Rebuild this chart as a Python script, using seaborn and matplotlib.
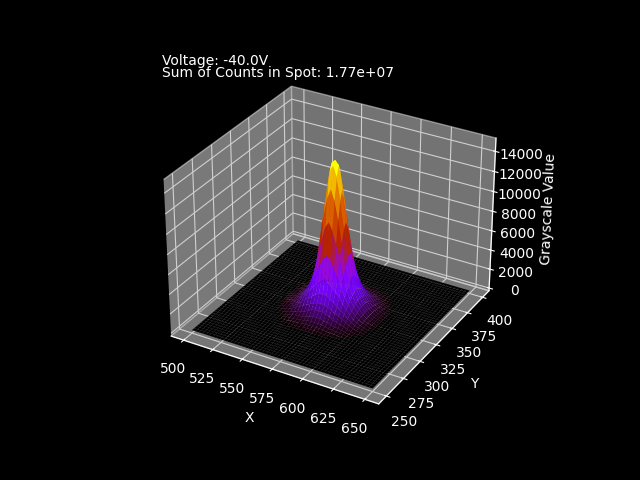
import numpy as np
import matplotlib
matplotlib.use("Agg")
import matplotlib.pyplot as plt
import seaborn as sns

voltage_label = "Voltage: -40.0V"
counts_label = "Sum of Counts in Spot: 1.77e+07"
x_pixels = np.arange(500, 651, 3)
y_pixels = np.arange(250, 401, 3)
background_counts = 30
spot_x_start = 11
spot_y_start = 12

# Grayscale values around the spot, in hundreds of counts
spot_hundreds = [
 [0,0,0,0,0,0,0,0,0,0,0,0,0,0,0,0,0,0,0,0,0,0,0,0,0,0,0,0,0],
 [0,0,0,0,0,0,0,0,0,1,1,1,1,1,1,1,1,1,1,1,0,0,0,0,0,0,0,0,0],
 [0,0,0,0,0,0,1,1,1,1,1,1,2,2,2,2,2,1,1,1,1,1,1,0,0,0,0,0,0],
 [0,0,0,0,0,1,1,1,2,2,2,3,3,3,3,3,3,3,2,2,2,1,1,1,0,0,0,0,0],
 [0,0,0,0,1,1,2,2,2,3,3,4,5,5,5,5,5,4,3,3,2,2,2,1,1,0,0,0,0],
 [0,0,0,1,1,1,2,3,4,4,5,6,7,8,8,8,7,6,5,4,4,3,2,1,1,1,0,0,0],
 [0,0,1,1,1,2,3,5,5,7,8,10,12,13,13,13,12,10,8,7,5,5,3,2,1,1,1,0,0],
 [0,0,1,1,2,3,5,7,9,11,13,15,17,18,19,18,17,15,13,11,9,7,5,3,2,1,1,0,0],
 [0,0,1,2,3,4,6,9,12,15,18,21,24,26,27,26,24,21,18,15,12,9,6,4,3,2,1,0,0],
 [0,1,1,2,3,5,7,11,15,20,25,30,33,37,40,37,33,30,25,20,15,11,7,5,3,2,1,1,0],
 [0,1,1,3,4,6,9,13,18,25,33,42,50,58,62,58,50,42,33,25,18,13,9,6,4,3,1,1,0],
 [0,1,2,3,4,7,10,15,21,30,42,60,74,88,94,86,74,60,42,30,21,15,10,7,4,3,2,1,0],
 [0,1,2,3,5,7,12,17,24,33,50,74,98,115,125,114,96,74,50,33,24,17,12,7,5,3,2,1,0],
 [0,1,2,3,5,8,13,18,26,37,58,88,114,138,147,136,114,86,58,37,26,18,13,8,5,3,2,1,0],
 [0,1,2,3,5,8,13,19,27,40,62,92,124,146,150,146,124,92,62,40,27,19,13,8,5,3,2,1,0],
 [0,1,2,3,5,8,13,18,26,37,58,87,115,137,145,135,113,85,58,37,26,18,13,8,5,3,2,1,0],
 [0,1,2,3,5,7,12,17,24,33,50,73,96,113,122,112,95,73,50,33,24,17,12,7,5,3,2,1,0],
 [0,1,2,3,4,7,10,15,21,30,42,59,73,85,90,84,72,59,42,30,21,15,10,7,4,3,2,1,0],
 [0,1,1,3,4,6,9,13,18,25,33,41,49,56,60,56,49,41,33,25,18,13,9,6,4,3,1,1,0],
 [0,1,1,2,3,5,7,11,15,20,25,30,33,37,40,37,33,30,25,20,15,11,7,5,3,2,1,1,0],
 [0,0,1,2,3,4,6,9,12,15,18,21,24,26,27,26,24,21,18,15,12,9,6,4,3,2,1,0,0],
 [0,0,1,1,2,3,5,7,9,11,13,15,17,18,19,18,17,15,13,11,9,7,5,3,2,1,1,0,0],
 [0,0,1,1,1,2,3,5,5,7,8,10,12,13,13,13,12,10,8,7,5,5,3,2,1,1,1,0,0],
 [0,0,0,1,1,1,2,3,4,4,5,6,7,8,8,8,7,6,5,4,4,3,2,1,1,1,0,0,0],
 [0,0,0,0,1,1,2,2,2,3,3,4,5,5,5,5,5,4,3,3,2,2,2,1,1,0,0,0,0],
 [0,0,0,0,0,1,1,1,2,2,2,3,3,3,3,3,3,3,2,2,2,1,1,1,0,0,0,0,0],
 [0,0,0,0,0,0,1,1,1,1,1,1,2,2,2,2,2,1,1,1,1,1,1,0,0,0,0,0,0],
 [0,0,0,0,0,0,0,0,0,1,1,1,1,1,1,1,1,1,1,1,0,0,0,0,0,0,0,0,0],
 [0,0,0,0,0,0,0,0,0,0,0,0,0,0,0,0,0,0,0,0,0,0,0,0,0,0,0,0,0],
]

plt.style.use("dark_background")
plt.rcParams["grid.color"] = "#d0d0d0"
gnuplot_cmap = sns.color_palette("gnuplot", as_cmap=True)

Z = np.full((len(y_pixels), len(x_pixels)), float(background_counts))
spot = np.array(spot_hundreds, dtype=float) * 100
mask = spot > 0
Z[spot_y_start:spot_y_start + spot.shape[0], spot_x_start:spot_x_start + spot.shape[1]][mask] = spot[mask]
X, Y = np.meshgrid(x_pixels, y_pixels)

fig = plt.figure(figsize=(6.4, 4.8), dpi=100)
ax = fig.add_subplot(projection="3d")
ax.plot_surface(X, Y, Z, cmap=gnuplot_cmap, rstride=1, cstride=1)
ax.set_xlabel("X")
ax.set_ylabel("Y")
ax.set_zlabel("Grayscale Value")
ax.text2D(0.05, 0.979, voltage_label, transform=ax.transAxes)
ax.text2D(0.05, 0.947, counts_label, transform=ax.transAxes)
fig.savefig("out.png", dpi=100)
